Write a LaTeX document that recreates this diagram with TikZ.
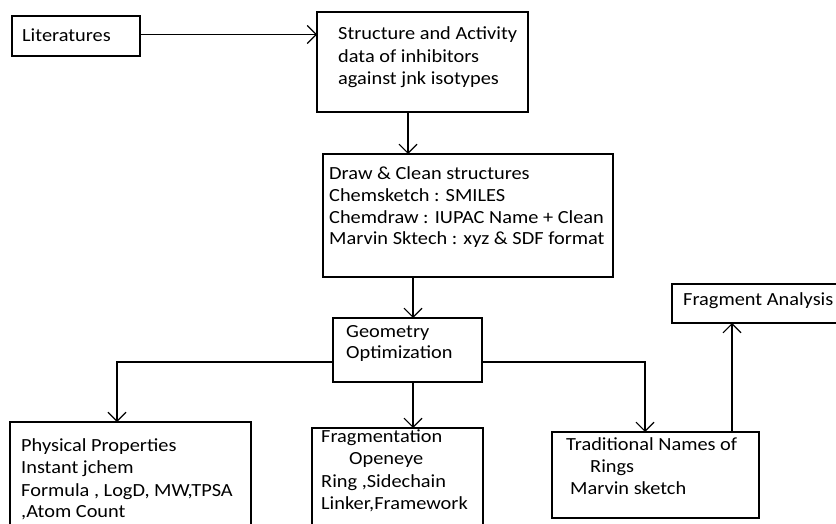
\documentclass[tikz,border=0pt]{standalone}
\usepackage{fontspec}
\setmainfont{Carlito}[FakeStretch=1.1]
\usetikzlibrary{arrows.meta}
\begin{document}
\begin{tikzpicture}[x=1pt,y=-1pt,
 box/.style={draw, line width=1.1pt, inner sep=0pt, outer sep=0pt, anchor=north west},
 txt/.style={anchor=base west, inner sep=0pt, font=\fontsize{18.5}{22}\selectfont},
 arr/.style={draw, line width=1.1pt, -{Straight Barb[length=9pt,width=18pt,line width=1.1pt]}}]
\useasboundingbox (0,0) rectangle (836,524);
% boxes
\node[box, minimum width=128, minimum height=40] (lit) at (12,16) {};
\node[box, minimum width=211, minimum height=100] (str) at (317,12) {};
\node[box, minimum width=290, minimum height=123] (drw) at (323,154) {};
\node[box, minimum width=149, minimum height=64] (geo) at (333,318) {};
\node[box, minimum width=241, minimum height=120] (phys) at (10,422) {};
\node[box, minimum width=171, minimum height=110] (frag) at (312,428) {};
\node[box, minimum width=207, minimum height=86] (trad) at (552,432) {};
\node[box, minimum width=180, minimum height=39] (fa) at (672,284) {};
% texts
\node[txt] (t1) at (22,42) {Literatures};
\node[txt] (t2) at (338,40) {Structure and Activity};
\node[txt] (t3) at (338,63) {data of inhibitors};
\node[txt] (t4) at (338,85) {against jnk isotypes};
\node[txt] (t5) at (329,179) {Draw \& Clean structures};
\node[txt] (t6) at (329,201) {Chemsketch : SMILES};
\node[txt] (t7) at (329,223) {Chemdraw : IUPAC Name + Clean};
\node[txt] (t8) at (329,244) {Marvin Sktech : xyz \& SDF format};
\node[txt] (t9) at (346,337) {Geometry};
\node[txt] (t10) at (346,358) {Optimization};
\node[txt] (t11) at (21,451) {Physical Properties};
\node[txt] (t12) at (21,473) {Instant jchem};
\node[txt] (t13) at (21,496) {Formula , LogD, MW,TPSA};
\node[txt] (t14) at (21,517) {,Atom Count};
\node[txt] (t15) at (321,442) {Fragmentation};
\node[txt] (t16) at (349,464) {Openeye};
\node[txt] (t17) at (321,487) {Ring ,Sidechain};
\node[txt] (t18) at (321,509) {Linker,Framework};
\node[txt] (t19) at (566,450) {Traditional Names of};
\node[txt] (t20) at (590,472) {Rings};
\node[txt] (t21) at (570,494) {Marvin sketch};
\node[txt] (t22) at (683,305) {Fragment Analysis};
% connector coordinates
\coordinate (ly) at (0,34.5);
\coordinate (sx) at (408,0);
\coordinate (dx) at (413,0);
\coordinate (gy) at (0,362);
\coordinate (px) at (117,0);
\coordinate (fx) at (413,0);
\coordinate (tx) at (645,0);
\coordinate (ax) at (732,0);
% connectors
\draw[arr] (lit.east |- ly) -- (str.west |- ly);
\draw[arr] (sx |- str.south) -- (sx |- drw.north);
\draw[arr] (dx |- drw.south) -- (dx |- geo.north);
\draw[arr] (geo.west |- gy) -| (px |- phys.north);
\draw[arr] (fx |- geo.south) -- (fx |- frag.north);
\draw[arr] (geo.east |- gy) -| (tx |- trad.north);
\draw[arr] (ax |- trad.north) -- (ax |- fa.south);
\end{tikzpicture}
\end{document}
